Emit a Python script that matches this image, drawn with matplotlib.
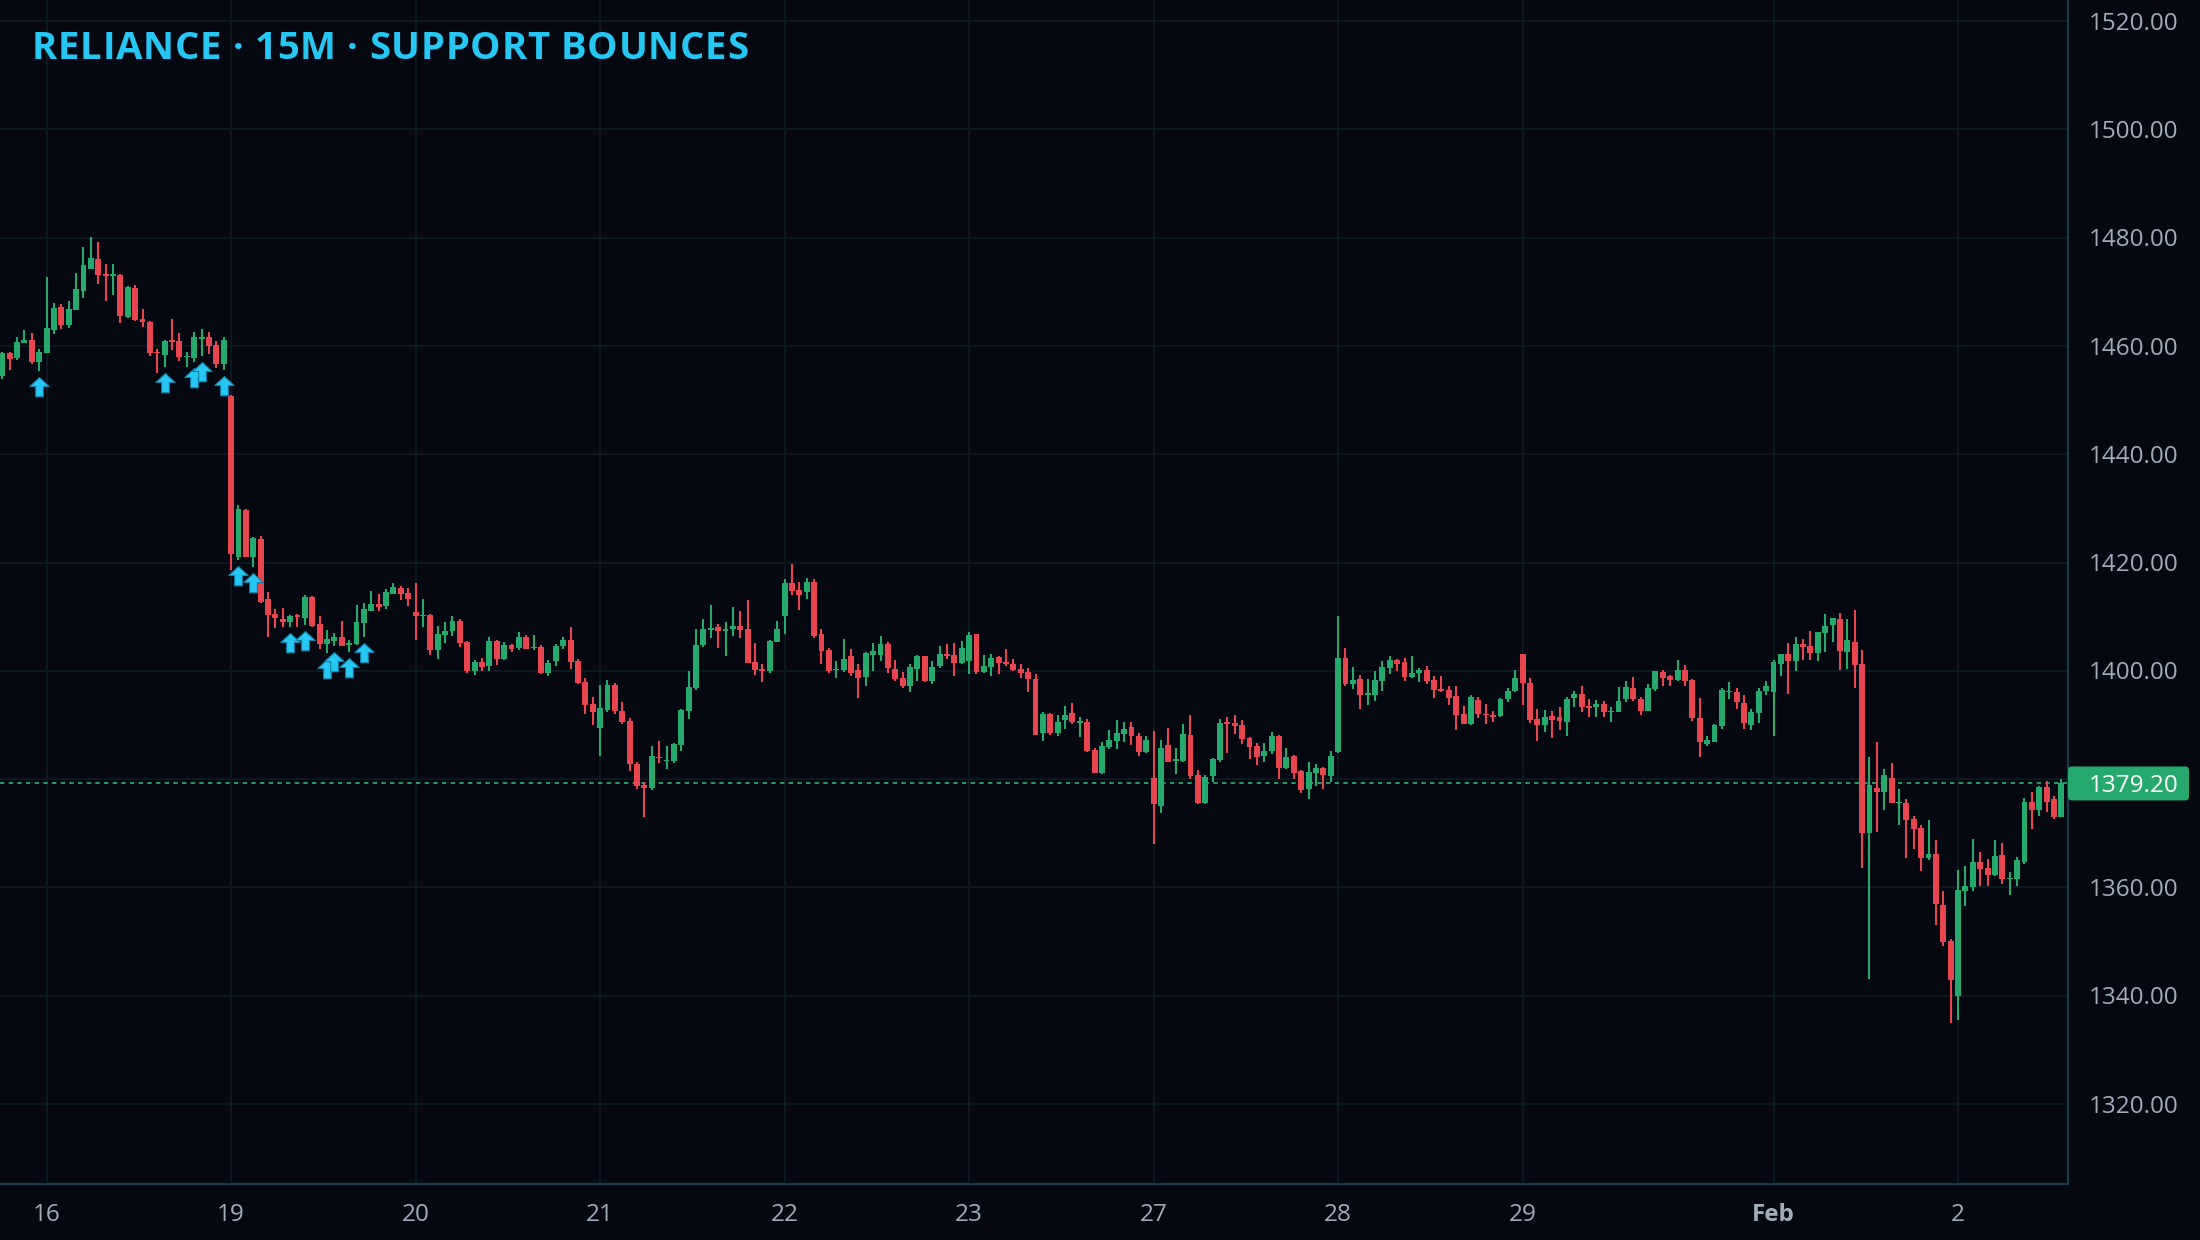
import matplotlib
matplotlib.use("Agg")
import matplotlib.pyplot as plt
from matplotlib.path import Path
from matplotlib.patches import FancyBboxPatch
from matplotlib.transforms import IdentityTransform
from matplotlib.font_manager import findfont, FontProperties
from matplotlib.ft2font import FT2Font
import numpy as np

# ---------------- data (15-minute bars) ----------------
opens = [1454.4,1458.7,1457.8,1460.6,1461.1,1457.0,1458.7,1462.9,1467.2,1463.9,1466.6,1470.1,1474.2,1476.0,1473.3,1472.9,1473.1,1465.3,1470.7,1465.0,
         1464.4,1458.9,1458.3,1461.1,1460.9,1457.9,1457.8,1461.2,1461.6,1460.2,1456.7,1450.7,1421.0,1429.7,1421.0,1424.3,1413.3,1410.5,1409.6,1409.0,
         1410.3,1409.8,1413.6,1408.6,1405.0,1405.5,1406.2,1404.8,1405.0,1408.8,1411.0,1412.3,1412.0,1414.2,1415.3,1414.4,1410.9,1410.1,1410.3,1403.8,
         1406.6,1407.4,1409.2,1405.3,1400.0,1401.6,1400.9,1405.5,1402.2,1404.8,1404.2,1406.2,1404.2,1404.4,1399.6,1401.8,1404.6,1405.7,1401.8,1397.9,
         1393.9,1389.4,1392.8,1397.4,1392.6,1390.7,1382.8,1378.9,1378.4,1384.1,1383.4,1383.4,1386.3,1392.6,1396.8,1404.8,1407.5,1408.1,1407.4,1407.7,
         1408.3,1407.7,1401.6,1400.3,1400.0,1405.3,1410.1,1416.2,1414.9,1414.6,1416.4,1406.8,1403.9,1400.2,1400.2,1402.7,1400.2,1398.9,1402.9,1402.9,
         1404.9,1400.3,1398.7,1397.2,1400.3,1402.7,1398.1,1400.9,1403.1,1402.9,1401.4,1401.8,1406.8,1399.8,1400.7,1402.6,1401.6,1401.3,1400.3,1399.8,
         1398.5,1388.5,1392.0,1388.5,1390.9,1392.2,1390.4,1390.6,1385.4,1381.1,1385.9,1387.0,1388.3,1389.6,1388.0,1385.0,1380.2,1375.0,1386.3,1383.3,
         1383.3,1388.1,1380.8,1375.6,1380.6,1383.5,1390.5,1390.4,1390.0,1387.6,1386.1,1384.3,1385.2,1388.0,1382.1,1384.3,1381.5,1378.2,1381.1,1382.1,
         1380.6,1385.0,1402.4,1397.6,1398.5,1395.5,1395.5,1398.1,1400.5,1402.0,1401.6,1398.9,1399.6,1400.1,1398.3,1396.6,1396.5,1395.3,1392.0,1390.2,
         1394.6,1392.0,1391.8,1391.6,1394.8,1396.3,1403.1,1397.7,1391.1,1390.0,1391.6,1391.5,1390.5,1395.0,1395.7,1393.4,1393.3,1393.9,1392.4,1392.4,
         1394.8,1396.8,1394.8,1392.6,1396.6,1399.8,1399.0,1398.3,1400.1,1398.3,1391.3,1386.5,1386.8,1389.8,1396.1,1396.1,1394.1,1390.0,1392.2,1396.3,
         1396.1,1401.3,1403.1,1401.8,1404.9,1404.6,1403.3,1407.0,1408.5,1409.6,1403.5,1405.3,1401.3,1370.1,1378.3,1377.6,1380.2,1375.6,1375.6,1372.6,
         1370.9,1365.4,1366.2,1356.7,1350.1,1339.9,1359.3,1360.1,1364.7,1363.6,1362.3,1366.0,1361.6,1361.5,1364.7,1375.8,1374.3,1378.5,1376.3,1373.0]
highs = [1458.9,1458.8,1461.6,1462.9,1462.4,1459.4,1472.7,1467.9,1467.7,1468.3,1473.5,1478.3,1480.1,1479.2,1475.1,1475.1,1473.3,1471.1,1471.3,1466.8,
         1464.6,1459.4,1461.1,1465.0,1462.4,1458.9,1462.6,1463.1,1462.6,1460.9,1461.6,1450.9,1430.6,1429.9,1424.7,1424.9,1414.6,1411.4,1411.6,1410.3,
         1410.5,1414.0,1413.8,1410.1,1407.5,1407.0,1409.2,1405.7,1412.2,1412.5,1414.7,1414.2,1415.1,1416.2,1415.7,1415.3,1416.2,1413.3,1410.5,1408.3,
         1409.0,1410.1,1409.6,1405.5,1402.0,1402.4,1406.2,1405.7,1405.3,1405.0,1407.2,1406.6,1406.6,1404.8,1402.0,1405.0,1406.2,1408.1,1402.2,1398.7,
         1395.2,1397.4,1398.3,1397.7,1394.2,1391.3,1383.2,1379.5,1386.1,1387.0,1386.1,1386.7,1392.9,1400.0,1407.7,1409.6,1412.2,1408.6,1409.0,1411.8,
         1411.0,1413.1,1405.1,1401.3,1405.7,1409.2,1417.0,1419.7,1416.4,1417.1,1417.0,1407.7,1404.2,1401.8,1405.9,1404.0,1401.3,1403.5,1405.1,1406.4,
         1405.3,1402.0,1399.8,1401.3,1402.9,1402.7,1401.8,1404.6,1404.9,1405.1,1405.5,1407.2,1406.8,1402.9,1403.1,1402.7,1404.0,1402.2,1401.3,1400.5,
         1399.4,1392.4,1392.2,1391.9,1393.5,1394.1,1391.5,1391.1,1385.8,1386.9,1389.1,1390.9,1390.6,1390.6,1388.5,1388.0,1388.9,1387.2,1389.4,1385.7,
         1390.2,1391.8,1381.7,1380.8,1383.9,1391.1,1391.5,1391.8,1390.9,1387.8,1386.7,1386.7,1388.7,1388.1,1385.7,1384.4,1381.7,1383.2,1382.8,1382.2,
         1385.2,1410.1,1404.2,1400.7,1399.2,1398.5,1400.0,1401.8,1402.7,1402.2,1402.4,1402.7,1400.5,1400.9,1399.0,1399.0,1397.2,1397.2,1393.5,1395.5,
         1395.2,1393.9,1392.6,1395.0,1396.8,1400.1,1403.1,1398.7,1392.9,1392.8,1392.6,1393.3,1395.2,1396.3,1397.2,1394.8,1394.6,1394.4,1393.3,1397.0,
         1398.1,1398.9,1395.2,1397.6,1400.0,1400.1,1399.2,1402.0,1401.1,1398.5,1395.0,1388.0,1390.2,1396.8,1397.9,1396.8,1395.5,1393.0,1396.8,1398.1,
         1402.0,1403.1,1405.1,1406.2,1405.9,1407.3,1407.2,1410.5,1409.8,1410.7,1409.6,1411.2,1403.8,1384.1,1386.8,1381.9,1383.0,1378.2,1376.3,1373.2,
         1371.5,1372.4,1368.8,1359.3,1350.5,1363.2,1363.9,1368.9,1366.5,1365.2,1368.7,1368.2,1362.8,1365.6,1376.5,1377.6,1378.7,1379.6,1376.9,1380.0]
lows = [1453.9,1455.5,1457.4,1460.6,1456.7,1455.4,1458.7,1462.2,1463.1,1463.3,1466.6,1468.9,1474.2,1471.4,1468.3,1469.4,1464.2,1465.1,1464.6,1463.5,
        1458.1,1455.0,1456.1,1459.2,1457.2,1456.1,1457.0,1458.1,1458.5,1455.9,1455.5,1418.6,1420.5,1421.0,1419.2,1412.5,1406.2,1407.9,1408.1,1408.1,
        1408.1,1408.5,1408.1,1404.0,1403.3,1404.6,1404.6,1403.5,1404.8,1406.2,1411.0,1411.0,1411.4,1414.2,1413.1,1412.0,1405.7,1408.1,1402.9,1402.2,
        1405.1,1406.4,1404.4,1399.6,1399.2,1400.0,1400.0,1401.1,1402.0,1403.5,1403.8,1404.0,1403.8,1399.4,1399.0,1400.9,1404.0,1400.3,1397.6,1392.0,
        1390.0,1384.3,1392.4,1392.0,1390.2,1381.5,1378.2,1373.0,1378.0,1383.0,1381.9,1383.0,1385.2,1391.1,1396.5,1404.4,1406.1,1404.2,1402.7,1406.4,
        1406.1,1401.4,1399.2,1397.9,1399.6,1405.3,1406.8,1414.0,1411.2,1413.3,1406.1,1401.3,1399.6,1398.7,1399.8,1399.0,1395.0,1397.2,1400.0,1401.8,
        1399.6,1398.1,1396.8,1396.1,1398.1,1397.9,1397.6,1400.5,1402.2,1399.0,1401.3,1399.4,1399.4,1399.6,1399.0,1399.4,1400.9,1400.0,1398.7,1396.1,
        1388.2,1387.0,1388.2,1388.0,1389.3,1390.2,1387.8,1385.0,1381.1,1380.9,1385.6,1385.6,1386.9,1386.3,1384.3,1384.8,1368.0,1373.7,1383.2,1380.9,
        1383.2,1380.0,1375.4,1375.4,1379.5,1383.2,1384.8,1388.3,1386.5,1383.7,1382.6,1383.2,1384.6,1380.0,1381.9,1380.0,1377.4,1376.3,1378.7,1378.2,
        1379.5,1384.8,1397.2,1396.6,1392.9,1393.7,1394.4,1396.3,1399.4,1400.0,1398.1,1398.7,1397.9,1397.6,1395.0,1396.1,1393.7,1389.1,1390.2,1390.0,
        1391.3,1390.2,1390.5,1391.5,1394.2,1396.1,1393.7,1390.4,1387.0,1388.7,1387.6,1389.1,1388.0,1393.3,1392.4,1391.5,1391.5,1391.5,1390.5,1392.4,
        1394.2,1394.4,1391.8,1392.6,1396.3,1397.2,1397.2,1398.1,1397.2,1390.7,1384.1,1386.1,1386.8,1389.2,1394.8,1392.9,1389.2,1389.1,1390.4,1395.5,
        1388.0,1399.0,1395.7,1400.0,1402.0,1402.0,1401.8,1403.5,1405.3,1400.1,1400.3,1396.8,1363.6,1343.1,1370.2,1374.3,1375.6,1371.5,1365.4,1367.1,
        1363.0,1365.0,1353.1,1349.2,1335.0,1335.5,1356.6,1359.3,1360.3,1360.3,1362.1,1360.6,1358.6,1360.3,1364.3,1370.8,1373.2,1374.0,1372.6,1373.0]
closes = [1458.7,1457.6,1460.7,1461.1,1457.0,1458.9,1463.3,1467.0,1463.9,1466.8,1470.5,1474.9,1476.2,1473.1,1472.9,1473.3,1465.5,1470.9,1464.8,1464.4,
          1458.7,1458.7,1460.9,1460.7,1457.9,1458.2,1461.6,1461.6,1460.0,1456.7,1461.1,1421.6,1429.9,1421.1,1424.5,1412.7,1410.3,1409.8,1409.0,1410.1,
          1409.9,1413.6,1408.3,1405.0,1405.9,1406.2,1404.6,1405.1,1409.0,1411.4,1412.3,1411.8,1414.6,1415.5,1414.2,1413.3,1410.1,1410.3,1403.8,1406.8,
          1407.4,1409.2,1405.1,1399.9,1401.6,1400.7,1405.5,1402.2,1404.8,1404.0,1406.2,1404.0,1404.4,1399.6,1401.4,1404.6,1405.7,1401.6,1397.7,1393.7,
          1392.4,1393.1,1397.4,1392.6,1390.5,1382.8,1378.7,1378.4,1384.3,1383.9,1383.5,1386.5,1392.8,1397.0,1404.8,1407.7,1407.9,1407.4,1407.8,1408.3,
          1407.5,1401.4,1400.2,1400.0,1405.5,1407.7,1416.2,1414.7,1414.0,1416.4,1406.4,1403.7,1400.0,1400.3,1402.2,1399.6,1398.7,1403.3,1403.7,1404.9,
          1400.5,1398.5,1397.2,1400.7,1402.7,1398.1,1400.7,1403.1,1402.7,1401.4,1404.2,1406.6,1399.8,1400.9,1402.4,1401.4,1401.3,1400.2,1399.6,1398.5,
          1388.2,1392.0,1388.5,1390.5,1391.8,1390.6,1390.7,1385.2,1381.1,1386.1,1387.2,1388.5,1389.3,1388.0,1385.0,1387.2,1375.4,1385.7,1383.2,1383.7,
          1388.3,1380.6,1375.6,1380.4,1383.7,1390.4,1390.2,1389.8,1387.4,1385.9,1384.1,1385.2,1388.0,1382.1,1384.1,1381.1,1378.0,1381.3,1382.1,1380.8,
          1384.3,1402.4,1397.6,1398.3,1395.5,1395.9,1398.3,1400.7,1402.0,1401.3,1398.9,1399.6,1400.1,1398.1,1396.5,1396.3,1395.0,1391.8,1390.2,1395.2,
          1392.0,1391.8,1391.5,1394.8,1396.3,1398.7,1397.7,1390.9,1390.0,1391.5,1390.9,1390.7,1394.8,1395.7,1393.3,1393.2,1393.9,1392.4,1392.6,1394.4,
          1397.0,1394.8,1392.6,1396.8,1400.0,1398.7,1398.3,1400.1,1398.1,1391.3,1386.8,1387.2,1390.0,1396.5,1396.3,1394.2,1390.4,1392.4,1396.3,1397.2,
          1401.6,1403.1,1401.8,1404.9,1404.4,1403.3,1407.2,1408.3,1409.8,1403.7,1405.7,1401.1,1370.1,1378.9,1377.6,1380.8,1375.6,1375.8,1372.4,1370.8,
          1365.4,1366.2,1356.9,1349.9,1342.9,1359.5,1360.3,1364.7,1363.4,1362.3,1365.8,1361.6,1361.8,1365.1,1375.8,1374.3,1378.5,1375.8,1373.0,1379.2]

day_labels = ["16", "19", "20", "21", "22", "23", "27", "28", "29", "Feb", "2"]
day_start_bar = [6, 31, 56, 81, 106, 131, 156, 181, 206, 240, 265]
bounce_bars = [5, 22, 26, 27, 30, 32, 34, 39, 41, 44, 45, 47, 49]
price_ticks = [1320, 1340, 1360, 1380, 1400, 1420, 1440, 1460, 1480, 1500, 1520]
title_text = "RELIANCE · 15M · SUPPORT BOUNCES"
last_price = closes[-1]

# ---------------- style ----------------
BG = "#050811"
GRID = "#0b1820"
SPINE = "#1a3a4a"
UP = "#26a96c"
DOWN = "#e8464f"
CYAN = "#27c7f3"
TICK = "#a1acba"
FONT = ["Open Sans", "DejaVu Sans"]
LBL_SIZE = 17.5

W, H = 2200, 1240
fig = plt.figure(figsize=(W / 100, H / 100), dpi=100, facecolor=BG)
ax = fig.add_axes([0, 56 / H, 2068 / W, 1184 / H], facecolor=BG)

n = len(opens)
x = np.arange(n)
o = np.array(opens); h = np.array(highs); l = np.array(lows); c = np.array(closes)
up = c >= o
cols = np.where(up, UP, DOWN)

ax.set_xlim(-0.31, 279.9)
ax.set_ylim(1305.23, 1523.88)

for p in price_ticks:
    ax.axhline(p, color=GRID, lw=1.5, zorder=0)
for b in day_start_bar:
    ax.axvline(b, color=GRID, lw=1.5, zorder=0)

ax.vlines(x, l, h, colors=cols, lw=1.5, zorder=2)
body_lo = np.minimum(o, c)
body_h = np.maximum(np.abs(c - o), 0.22)
ax.bar(x, body_h, bottom=body_lo, width=0.8, color=cols, linewidth=0, zorder=3)

ax.axhline(last_price, color=UP, lw=1.3, ls=(0, (2.4, 2.4)), zorder=1)

# bounce arrows (marker tip sits a few px below the low)
verts = [(0, -6), (9.7, -15), (3.85, -15), (3.85, -25.3), (-3.85, -25.3),
         (-3.85, -15), (-9.7, -15), (0, -6)]
codes = [Path.MOVETO] + [Path.LINETO] * 6 + [Path.CLOSEPOLY]
arrow = Path(verts, codes)
ms_pt = 2 * 25.3 * 0.72
bx = np.array(bounce_bars)
ax.scatter(bx, l[bx], marker=arrow, s=ms_pt ** 2, facecolor=CYAN,
           edgecolor="#137fa6", linewidths=0.8, zorder=5)

for s in ["top", "left"]:
    ax.spines[s].set_visible(False)
for s in ["right", "bottom"]:
    ax.spines[s].set_color(SPINE)
    ax.spines[s].set_linewidth(1.6)
ax.set_xticks([]); ax.set_yticks([])

# y labels (baseline placed so digits are centred on the gridline)
cap = LBL_SIZE / 72 * 100 * 0.714
for p in price_ticks:
    ypx = ax.transData.transform((0, p))[1]
    fig.text(2089 / W, (ypx - cap / 2) / H, f"{p:.2f}", ha="left", va="baseline",
             fontsize=LBL_SIZE, color=TICK, family=FONT)

# x labels
for lab, b in zip(day_labels, day_start_bar):
    xpx = ax.transData.transform((b, 0))[0]
    fig.text(xpx / W, (H - 1212 - cap / 2) / H, lab, ha="center", va="baseline",
             fontsize=LBL_SIZE, color=TICK, family=FONT,
             fontweight="bold" if lab == "Feb" else "normal")

# last price tag
ypix = ax.transData.transform((0, last_price))[1]
box = FancyBboxPatch((2068, ypix - 17), 121, 34, boxstyle="round,pad=0,rounding_size=4",
                     transform=IdentityTransform(), facecolor=UP, edgecolor="none", zorder=10)
fig.patches.append(box)
fig.text(2089 / W, (ypix - cap / 2) / H, f"{last_price:.2f}", ha="left", va="baseline",
         fontsize=LBL_SIZE, color="white", family=FONT, zorder=11)

# title with slight letter spacing
TSIZE = 27.5
tprop = FontProperties(family="Open Sans", weight="bold")
ft = FT2Font(findfont(tprop))
ft.set_size(TSIZE, 100)
xpos = 32.0
spacing = 0.7
for ch in title_text:
    fig.text(xpos / W, 1 - 59 / H, ch, ha="left", va="baseline", fontsize=TSIZE,
             fontweight="bold", color=CYAN, family=FONT)
    g = ft.load_char(ord(ch))
    xpos += g.linearHoriAdvance / 65536 + spacing

fig.savefig("out.png", dpi=100, facecolor=BG)
